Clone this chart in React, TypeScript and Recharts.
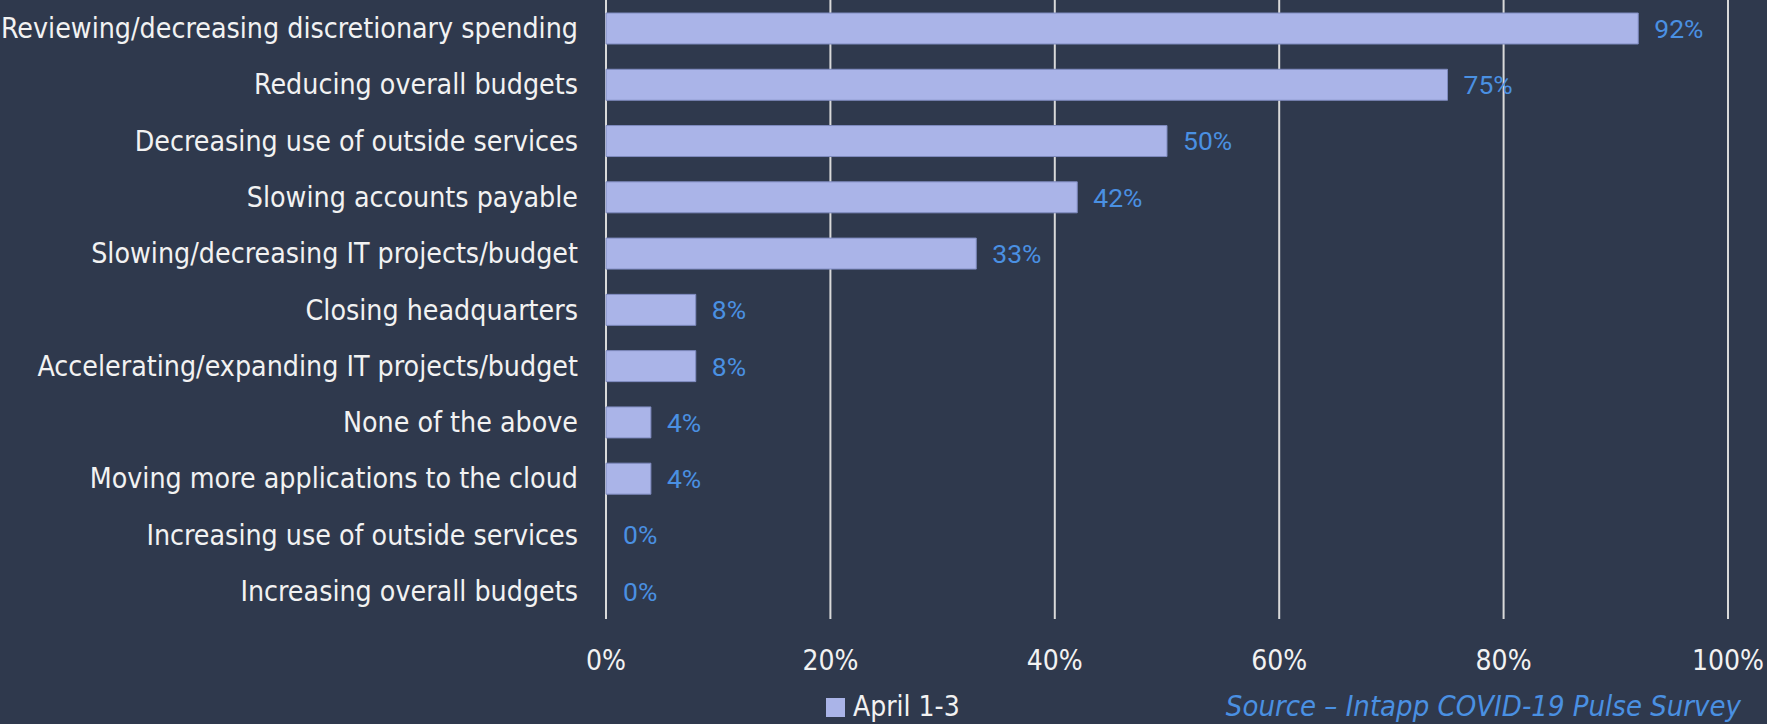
import React from "react";
import { Bar, BarChart, CartesianGrid, Cell, LabelList, XAxis, YAxis } from "recharts";

const categories = [
  "Reviewing/decreasing discretionary spending",
  "Reducing overall budgets",
  "Decreasing use of outside services",
  "Slowing accounts payable",
  "Slowing/decreasing IT projects/budget",
  "Closing headquarters",
  "Accelerating/expanding IT projects/budget",
  "None of the above",
  "Moving more applications to the cloud",
  "Increasing use of outside services",
  "Increasing overall budgets",
];
const april13 = [92, 75, 50, 42, 33, 8, 8, 4, 4, 0, 0];
const xTicks = [0, 20, 40, 60, 80, 100];
const seriesName = "April 1-3";
const sourceText = "Source \u2013 Intapp COVID-19 Pulse Survey";

const BG = "#2f394d";
const BAR = "#aab4e8";
const LABEL_BLUE = "#4a90e2";
const TEXT = "#f2f2f2";
const FONT = "'Liberation Sans Narrow', 'DejaVu Sans Condensed', 'Roboto Condensed', Roboto, sans-serif";

const data = categories.map((name, i) => ({ name, value: april13[i], pct: `${april13[i]}%` }));

export default function App() {
  return (
    <div style={{ position: "absolute", left: 0, top: 0, width: 1767, height: 724, background: BG, fontFamily: FONT }}>
      <BarChart
        width={1767}
        height={724}
        data={data}
        layout="vertical"
        margin={{ top: 0, right: 39, bottom: 0, left: 0 }}
      >
        <CartesianGrid horizontal={false} stroke="#d9d9d9" strokeWidth={2} />
        <XAxis
          type="number"
          domain={[0, 100]}
          ticks={xTicks}
          height={105}
          tickFormatter={(v: number) => `${v}%`}
          axisLine={false}
          tickLine={false}
          tickMargin={25}
          tick={{ fill: TEXT, fontSize: 28, fontFamily: FONT }}
          interval={0}
        />
        <YAxis
          type="category"
          dataKey="name"
          width={606}
          axisLine={false}
          tickLine={false}
          tickMargin={22}
          tick={{ fill: TEXT, fontSize: 28.3, fontFamily: FONT }}
          interval={0}
        />
        <Bar
          dataKey="value"
          name={seriesName}
          fill={BAR}
          stroke="#7f8bbf"
          strokeWidth={1}
          barSize={31}
          minPointSize={1}
          isAnimationActive={false}
        >
          {data.map((d) => (
            <Cell
              key={d.name}
              fill={d.value === 0 ? "transparent" : BAR}
              stroke={d.value === 0 ? "none" : "#7f8bbf"}
            />
          ))}
          <LabelList
            dataKey="pct"
            position="right"
            offset={16}
            fill={LABEL_BLUE}
            fontSize={26.5}
            fontFamily="Roboto, sans-serif"
          />
        </Bar>
      </BarChart>
      <div
        style={{
          position: "absolute",
          left: 826,
          top: 690,
          display: "flex",
          alignItems: "center",
          fontSize: 28,
          color: TEXT,
          lineHeight: "34px",
        }}
      >
        <span style={{ display: "inline-block", width: 19, height: 19, background: BAR, marginRight: 8 }} />
        <span>{seriesName}</span>
      </div>
      <div
        style={{
          position: "absolute",
          right: 1767 - 1741,
          top: 689,
          fontSize: 29,
          fontStyle: "italic",
          color: LABEL_BLUE,
          lineHeight: "34px",
          whiteSpace: "nowrap",
        }}
      >
        {sourceText}
      </div>
    </div>
  );
}
